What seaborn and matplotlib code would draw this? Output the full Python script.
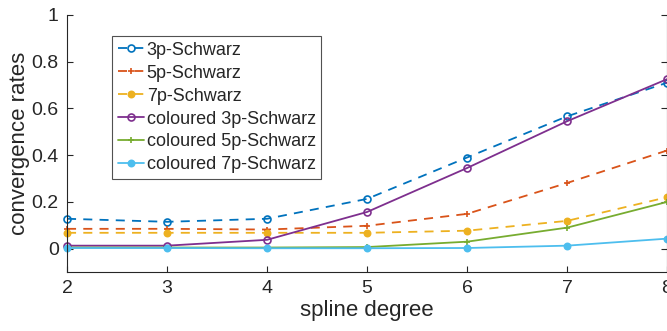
import matplotlib
matplotlib.use("Agg")
import matplotlib.pyplot as plt
import seaborn as sns
import pandas as pd

degrees = [2, 3, 4, 5, 6, 7, 8]
s3p = [0.128, 0.115, 0.128, 0.213, 0.390, 0.566, 0.710]
s5p = [0.085, 0.085, 0.082, 0.098, 0.149, 0.281, 0.420]
s7p = [0.068, 0.068, 0.068, 0.068, 0.077, 0.119, 0.220]
c3p = [0.013, 0.013, 0.038, 0.157, 0.345, 0.545, 0.725]
c5p = [0.005, 0.005, 0.005, 0.007, 0.030, 0.090, 0.200]
c7p = [0.003, 0.003, 0.002, 0.002, 0.003, 0.013, 0.043]
labels = ["3p-Schwarz", "5p-Schwarz", "7p-Schwarz",
          "coloured 3p-Schwarz", "coloured 5p-Schwarz", "coloured 7p-Schwarz"]
xticks = [2, 3, 4, 5, 6, 7, 8]
yticks = [0, 0.2, 0.4, 0.6, 0.8, 1]
yticklabels = ["0", "0.2", "0.4", "0.6", "0.8", "1"]

series = [s3p, s5p, s7p, c3p, c5p, c7p]
colors = ["#0072BD", "#D95319", "#EDB120", "#7E2F8E", "#77AC30", "#4DBEEE"]
styles = [(0, (5, 4)), (0, (5, 4)), (0, (5, 4)), "-", "-", "-"]
markers = ["o", "+", ".", "o", "+", "."]

sns.set_theme(style="white")
plt.rcParams['font.family'] = ['Liberation Sans', 'DejaVu Sans']

df = pd.concat([pd.DataFrame({"degree": degrees, "rate": v, "method": lab})
                for v, lab in zip(series, labels)], ignore_index=True)

fig = plt.figure(figsize=(6.67, 3.31), dpi=100)
ax = fig.add_axes([0.1005, 0.178, 0.8995, 0.777])

handles = []
for lab, col, ls, mk in zip(labels, colors, styles, markers):
    sub = df[df["method"] == lab]
    sns.lineplot(data=sub, x="degree", y="rate", ax=ax, color=col, legend=False)
    ln = ax.lines[-1]
    ln.set_linestyle(ls)
    ln.set_linewidth(1.3)
    ln.set_marker(mk)
    ln.set_markersize(5 if mk != "." else 9)
    ln.set_markeredgewidth(1.2)
    ln.set_markeredgecolor(col)
    ln.set_markerfacecolor("none" if mk == "o" else col)
    ln.set_label(lab)
    ln.set_clip_on(False)
    handles.append(ln)

ax.set_xlim(2, 8)
ax.set_ylim(-0.1, 1)
ax.set_xticks(xticks)
ax.set_xticklabels([str(t) for t in xticks])
ax.set_yticks(yticks)
ax.set_yticklabels(yticklabels)
ax.tick_params(axis="both", direction="in", length=4, width=0.8,
               colors="#262626", labelsize=14, labelcolor="#262626",
               top=False, right=True, bottom=True, left=True, pad=6)
for sp in ax.spines.values():
    sp.set_color("#262626")
    sp.set_linewidth(0.8)
ax.spines["top"].set_visible(False)
ax.set_xlabel("spline degree", fontsize=16, color="#262626", labelpad=2)
ax.set_ylabel("convergence rates", fontsize=16, color="#262626", labelpad=1)

leg = ax.legend(handles=handles, labels=labels, loc="upper left",
                bbox_to_anchor=(0.0755, 0.917), fontsize=13,
                frameon=True, fancybox=False, edgecolor="#262626",
                borderpad=0.3, labelspacing=0.33, handlelength=1.45,
                handletextpad=0.15, borderaxespad=0)
leg.get_frame().set_linewidth(0.8)

fig.savefig("out.png", dpi=100)
